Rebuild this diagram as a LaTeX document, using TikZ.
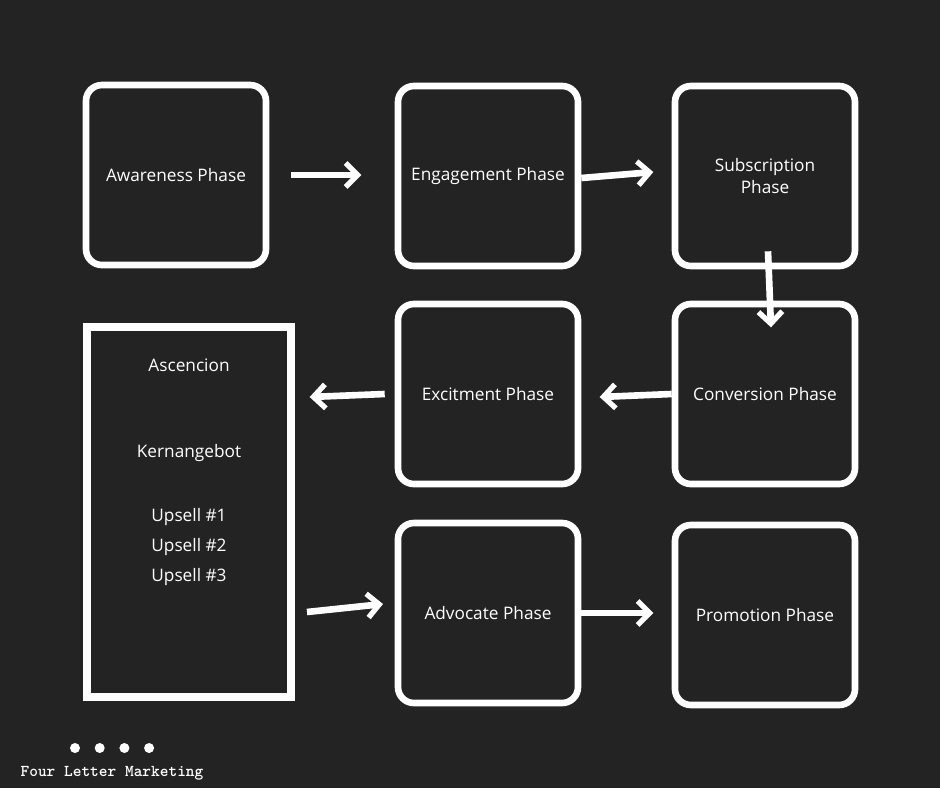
\documentclass[tikz,border=0pt]{standalone}
\usepackage{fontspec}
\setmainfont{Open Sans}
\usetikzlibrary{arrows.meta}
\definecolor{board}{HTML}{232323}
\tikzset{
  phase/.style={draw=white,line width=5pt,rounded corners=12pt,minimum width=180\px,minimum height=180\px,text=white,font=\fontsize{13}{17}\selectfont,align=center},
  label/.style={text=white,font=\fontsize{13}{17}\selectfont},
  flow/.style={white,line width=5pt,-{Straight Barb[length=9pt,width=18pt,line width=4pt]}}
}
\newlength{\px}\setlength{\px}{0.0265cm}
\begin{document}
\begin{tikzpicture}[x=\px,y=-\px]
  \fill[board] (0,0) rectangle (940,788);
  \useasboundingbox (0,0) rectangle (940,788);

  \node (aware) [phase] at (176,175) {Awareness Phase};
  \node (engage) [phase] at (488,176) {Engagement Phase};
  \node (subscr) [phase] at (765,176) {Subscription\\Phase};
  \node (excite) [phase] at (488,394) {Excitment Phase};
  \node (convert) [phase] at (765,394) {Conversion Phase};
  \node (advocate) [phase] at (488,613) {Advocate Phase};
  \node (promote) [phase] at (765,615) {Promotion Phase};

  \node (ascend) [draw=white,line width=6pt,minimum width=204\px,minimum height=370\px] at (189,512) {};
  \node (ascension) [label] at (189,365) {Ascencion};
  \node (core) [label] at (189,453) {Kernangebot};
  \node (upsell1) [label] at (189,517) {Upsell \#1};
  \node (upsell2) [label] at (189,547) {Upsell \#2};
  \node (upsell3) [label] at (189,577) {Upsell \#3};

  \draw[flow] (aware.east) ++(22\px,0) -- ++(70\px,0);
  \draw[flow] (engage.east) ++(0,-2\px) -- ++(72\px,6\px);
  \draw[flow] (subscr.south) ++(3\px,18\px) -- ++(3\px,-76\px);
  \draw[flow] (convert.west) -- ++(-72\px,-3\px);
  \draw[flow] (excite.west) ++(-10\px,0) -- ++(-75\px,-3\px);
  \draw[flow] (ascend.east) ++(12\px,-100\px) -- ++(76\px,8\px);
  \draw[flow] (advocate.east) -- ++(72\px,0);

  \foreach \i in {0,1,2,3}
    \fill[white] (75+\i*24.7,748) circle (5\px);
  \node (brand) [text=white,font=\ttfamily\bfseries\fontsize{12.5}{14}\selectfont] at (112,773) {Four Letter Marketing};
\end{tikzpicture}
\end{document}
